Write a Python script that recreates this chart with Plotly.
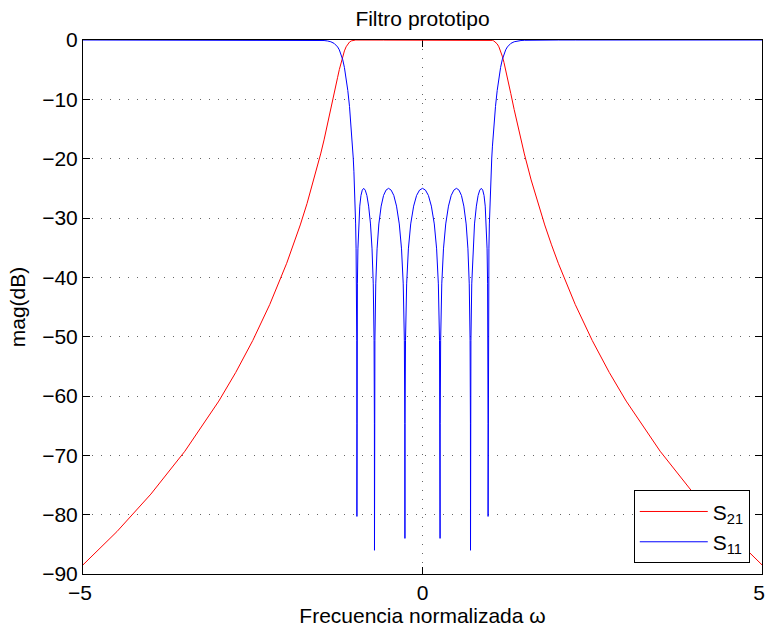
import plotly.graph_objects as go

# Normalized frequency samples
omega = [
    -5.0, -4.5, -4.0, -3.5, -3.0, -2.75, -2.5, -2.25, -2.0, -1.9, -1.8, -1.7, -1.6, -1.5, -1.45, -1.4,
    -1.35, -1.3, -1.275, -1.25, -1.225, -1.2, -1.175, -1.15, -1.125, -1.1, -1.075, -1.05, -1.03, -1.02,
    -1.01, -1.0, -0.99905, -0.99619, -0.99144, -0.98481, -0.97815, -0.97237, -0.96815, -0.96638,
    -0.96593, -0.96547, -0.96363, -0.95882, -0.95106, -0.93969, -0.92388, -0.90631, -0.88701, -0.86603,
    -0.84339, -0.81915, -0.79335, -0.76604, -0.74314, -0.72537, -0.71325, -0.70834, -0.70711, -0.70587,
    -0.70091, -0.68835, -0.66913, -0.64279, -0.60876, -0.57358, -0.53730, -0.5, -0.46175, -0.42262,
    -0.38268, -0.34202, -0.30902, -0.28402, -0.26724, -0.26050, -0.25882, -0.25713, -0.25038, -0.23345,
    -0.20791, -0.17365, -0.13053, -0.08716, -0.04362,
    0.0,
    0.04362, 0.08716, 0.13053, 0.17365, 0.20791, 0.23345, 0.25038, 0.25713, 0.25882, 0.26050,
    0.26724, 0.28402, 0.30902, 0.34202, 0.38268, 0.42262, 0.46175, 0.5, 0.53730, 0.57358,
    0.60876, 0.64279, 0.66913, 0.68835, 0.70091, 0.70587, 0.70711, 0.70834, 0.71325, 0.72537,
    0.74314, 0.76604, 0.79335, 0.81915, 0.84339, 0.86603, 0.88701, 0.90631, 0.92388, 0.93969,
    0.95106, 0.95882, 0.96363, 0.96547, 0.96593, 0.96638, 0.96815, 0.97237, 0.97815, 0.98481,
    0.99144, 0.99619, 0.99905, 1.0, 1.01, 1.02, 1.03, 1.05, 1.075, 1.1,
    1.125, 1.15, 1.175, 1.2, 1.225, 1.25, 1.275, 1.3, 1.35, 1.4,
    1.45, 1.5, 1.6, 1.7, 1.8, 1.9, 2.0, 2.25, 2.5, 2.75,
    3.0, 3.5, 4.0, 4.5, 5.0,
]

# |S21| in dB (red)
s21_db = [
    -88.46, -82.85, -76.53, -69.31, -60.86, -56.02, -50.65, -44.59, -37.63, -34.52, -31.17, -27.54,
    -23.58, -19.203, -16.835, -14.342, -11.718, -9.001, -7.633, -6.284, -4.988, -3.785, -2.720, -1.834,
    -1.148, -0.660, -0.342, -0.155, -0.071, -0.045, -0.026, -0.014,
    -0.013, -0.010, -0.007, -0.003, -0.001, 0.0, 0.0, 0.0, 0.0, 0.0, 0.0, 0.0,
    -0.001, -0.003, -0.007, -0.010, -0.013, -0.014,
    -0.013, -0.010, -0.007, -0.003, -0.001, 0.0, 0.0, 0.0, 0.0, 0.0, 0.0, 0.0,
    -0.001, -0.003, -0.007, -0.010, -0.013, -0.014,
    -0.013, -0.010, -0.007, -0.003, -0.001, 0.0, 0.0, 0.0, 0.0, 0.0, 0.0, 0.0,
    -0.001, -0.003, -0.007, -0.010, -0.013,
    -0.014,
    -0.013, -0.010, -0.007, -0.003, -0.001, 0.0, 0.0, 0.0, 0.0, 0.0, 0.0, 0.0,
    -0.001, -0.003, -0.007, -0.010, -0.013, -0.014,
    -0.013, -0.010, -0.007, -0.003, -0.001, 0.0, 0.0, 0.0, 0.0, 0.0, 0.0, 0.0,
    -0.001, -0.003, -0.007, -0.010, -0.013, -0.014,
    -0.013, -0.010, -0.007, -0.003, -0.001, 0.0, 0.0, 0.0, 0.0, 0.0, 0.0, 0.0,
    -0.001, -0.003, -0.007, -0.010, -0.013, -0.014,
    -0.026, -0.045, -0.071, -0.155, -0.342, -0.660, -1.148, -1.834, -2.720, -3.785, -4.988, -6.284,
    -7.633, -9.001, -11.718, -14.342, -16.835, -19.203, -23.58, -27.54, -31.17, -34.52, -37.63,
    -44.59, -50.65, -56.02, -60.86, -69.31, -76.53, -82.85, -88.46,
]

# |S11| in dB (blue)
s11_db = [
    0.0, 0.0, 0.0, 0.0, 0.0, 0.0, 0.0, 0.0, 0.0, 0.0, 0.0, -0.01, -0.02, -0.05, -0.09, -0.16,
    -0.30, -0.58, -0.82, -1.17, -1.66, -2.35, -3.32, -4.63, -6.34, -8.51, -11.20, -14.55, -17.89, -19.89,
    -22.21, -25.0,
    -25.3, -26.2, -28.0, -31.0, -35.2, -41.1, -50.6, -64.6, -80.3, -64.6, -50.6, -41.1,
    -35.2, -31.0, -28.0, -26.2, -25.3, -25.0,
    -25.3, -26.2, -28.0, -31.0, -35.2, -41.1, -50.6, -64.6, -86.0, -64.6, -50.6, -41.1,
    -35.2, -31.0, -28.0, -26.2, -25.3, -25.0,
    -25.3, -26.2, -28.0, -31.0, -35.2, -41.1, -50.6, -64.6, -84.0, -64.6, -50.6, -41.1,
    -35.2, -31.0, -28.0, -26.2, -25.3,
    -25.0,
    -25.3, -26.2, -28.0, -31.0, -35.2, -41.1, -50.6, -64.6, -84.0, -64.6, -50.6, -41.1,
    -35.2, -31.0, -28.0, -26.2, -25.3, -25.0,
    -25.3, -26.2, -28.0, -31.0, -35.2, -41.1, -50.6, -64.6, -86.0, -64.6, -50.6, -41.1,
    -35.2, -31.0, -28.0, -26.2, -25.3, -25.0,
    -25.3, -26.2, -28.0, -31.0, -35.2, -41.1, -50.6, -64.6, -80.3, -64.6, -50.6, -41.1,
    -35.2, -31.0, -28.0, -26.2, -25.3, -25.0,
    -22.21, -19.89, -17.89, -14.55, -11.20, -8.51, -6.34, -4.63, -3.32, -2.35, -1.66, -1.17,
    -0.82, -0.58, -0.30, -0.16, -0.09, -0.05, -0.02, -0.01, 0.0,
    0.0, 0.0, 0.0, 0.0, 0.0, 0.0, 0.0, 0.0, 0.0, 0.0,
]

series_names = ["S<sub>21</sub>", "S<sub>11</sub>"]
x_tick_values = [-5, 0, 5]
x_tick_labels = ["\u22125\u00a0", "0", "5\u00a0"]
y_tick_values = [0, -10, -20, -30, -40, -50, -60, -70, -80, -90]

FONT = "Liberation Sans, Arial, Helvetica, sans-serif"
FS = 21

fig = go.Figure()
fig.add_trace(go.Scatter(x=omega, y=s21_db, mode="lines", name=series_names[0],
                         line=dict(color="#ff0000", width=1)))
fig.add_trace(go.Scatter(x=omega, y=s11_db, mode="lines", name=series_names[1],
                         line=dict(color="#0000ff", width=1)))

fig.update_layout(
    width=765, height=628,
    margin=dict(l=83, r=3, t=40, b=54, autoexpand=False),
    paper_bgcolor="white", plot_bgcolor="white",
    font=dict(family=FONT, size=FS, color="black"),
    title=dict(text="Filtro prototipo", x=0.5, xref="paper", xanchor="center",
               y=1 - 19 / 628, yref="container", yanchor="middle",
               font=dict(family=FONT, size=FS, color="black")),
    showlegend=True,
    legend=dict(x=0.982, y=0.02, xanchor="right", yanchor="bottom",
                bordercolor="black", borderwidth=1, bgcolor="white",
                font=dict(family=FONT, size=FS, color="black"),
                itemwidth=68, tracegroupgap=0),
)

axis_common = dict(showgrid=True, gridcolor="rgba(0,0,0,0.6)", gridwidth=1, griddash="1px,8px",
                   zeroline=False, showline=True, linecolor="black", linewidth=1,
                   mirror="ticks", ticks="inside", ticklen=7, tickcolor="black", tickwidth=1,
                   layer="below traces", automargin=False, ticklabeloverflow="allow",
                   tickfont=dict(family=FONT, size=FS, color="black"))

fig.update_xaxes(range=[-5, 5], tickvals=x_tick_values, ticktext=x_tick_labels,
                 title=dict(text="Frecuencia normalizada ω", standoff=3,
                            font=dict(family=FONT, size=FS, color="black")),
                 **axis_common)
fig.update_yaxes(range=[-90, 0], tickvals=y_tick_values,
                 title=dict(text="mag(dB)", standoff=10,
                            font=dict(family=FONT, size=FS, color="black")),
                 **axis_common)

# The page's default 8px body margin would shift the figure; remove it.
fig.write_html("out.html", config={"displayModeBar": False},
               post_script="document.body.style.margin='0';")
